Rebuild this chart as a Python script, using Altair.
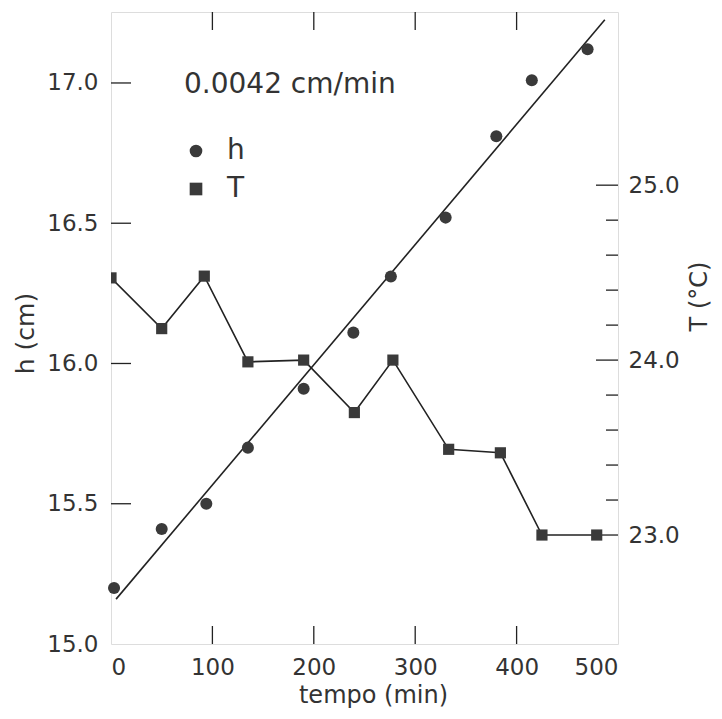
import altair as alt
import pandas as pd

# ---- data ----
h_t = [3, 50, 94, 135, 190, 239, 276, 330, 380, 415, 470]
h_val = [15.20, 15.41, 15.50, 15.70, 15.91, 16.11, 16.31, 16.52, 16.81, 17.01, 17.12]
T_t = [0, 50, 92, 135, 190, 240, 278, 333, 384, 425, 479]
T_val = [24.47, 24.18, 24.48, 23.99, 24.00, 23.70, 24.00, 23.49, 23.47, 23.00, 23.00]
fit_t = [5, 487]
fit_h = [15.16, 17.225]
x_labels = [0, 100, 200, 300, 400, 500]
x_inner_ticks = [100, 200, 300, 400]
h_labels = [15.0, 15.5, 16.0, 16.5, 17.0]
h_inner_ticks = [15.5, 16.0, 16.5, 17.0]
T_labels = [23.0, 24.0, 25.0]
T_minor = [23.2, 23.4, 23.6, 23.8, 24.2, 24.4, 24.6, 24.8]
slope_label = ["0.0042 cm/min"]
series = ["h", "T"]

W, H = 507, 632
FONT = "DejaVu Sans"
INK = "#222222"
MARK = "#3a3a3a"
TXT = "#333333"

dfh = pd.DataFrame({"t": h_t, "h": h_val, "series": "h"})
dfT = pd.DataFrame({"t": T_t, "T": T_val, "series": "T"})
dff = pd.DataFrame({"t": fit_t, "h": fit_h})

xscale = alt.Scale(domain=[0, 500], nice=False, zero=False)
hscale = alt.Scale(domain=[15.0, 17.253], nice=False, zero=False)
Tscale = alt.Scale(domain=[22.377, 25.99], nice=False, zero=False)

xaxis = alt.Axis(values=x_labels, format="d", labelFlush=True, ticks=False, domain=False,
                 grid=False, labelPadding=12, labelFontSize=23, labelColor=TXT,
                 labelFont=FONT, title="tempo (min)", titleFont=FONT, titleFontSize=24,
                 titleFontWeight="normal", titleColor=TXT, titleX=262, titleY=51,
                 titleBaseline="middle", titleAlign="center")
haxis = alt.Axis(values=h_labels, format=".1f", orient="left", ticks=False, domain=False,
                 grid=False, labelPadding=13, labelFontSize=23, labelColor=TXT,
                 labelFont=FONT, title="h (cm)", titleFont=FONT, titleFontSize=25,
                 titleFontWeight="normal", titleColor=TXT, titleAngle=270,
                 titleX=-86, titleY=321, titleBaseline="middle", titleAlign="center")
Taxis = alt.Axis(values=T_labels, format=".1f", orient="right", ticks=False, domain=False,
                 grid=False, labelPadding=10, labelFontSize=23, labelColor=TXT,
                 labelFont=FONT, title="T (°C)", titleFont=FONT, titleFontSize=24,
                 titleFontWeight="normal", titleColor=TXT, titleAngle=270,
                 titleX=81, titleY=284, titleBaseline="middle", titleAlign="center")

X = alt.X("t:Q", scale=xscale, axis=xaxis)
YH = alt.Y("h:Q", scale=hscale, axis=haxis)
YT = alt.Y("T:Q", scale=Tscale, axis=Taxis)

legend = alt.Legend(title=None, orient="none", legendX=71, legendY=125, padding=0,
                    labelFont=FONT, labelFontSize=28, labelColor=TXT, labelOffset=17,
                    symbolSize=160, symbolFillColor=MARK, symbolStrokeColor=MARK,
                    symbolStrokeWidth=0, symbolOpacity=1, rowPadding=10)
SHAPE = alt.Shape("series:N", scale=alt.Scale(domain=series, range=["circle", "square"]),
                  legend=legend)

# ---- left (h) group ----
h_pts = alt.Chart(dfh).mark_point(filled=True, size=145, color=MARK, opacity=1).encode(
    x=X, y=YH, shape=SHAPE)
fit = alt.Chart(dff).mark_line(color=INK, strokeWidth=1.6).encode(x=X, y=YH)
h_ticks = alt.Chart(pd.DataFrame({"h": h_inner_ticks})).mark_rule(
    color=INK, strokeWidth=1.3).encode(y=YH, x=alt.value(0), x2=alt.value(20))
xb_ticks = alt.Chart(pd.DataFrame({"t": x_inner_ticks})).mark_rule(
    color=INK, strokeWidth=1.3).encode(x=X, y=alt.value(H), y2=alt.value(H - 18))
xt_ticks = alt.Chart(pd.DataFrame({"t": x_inner_ticks})).mark_rule(
    color=INK, strokeWidth=1.3).encode(x=X, y=alt.value(0), y2=alt.value(18))
note = alt.Chart(pd.DataFrame({"label": slope_label})).mark_text(
    align="left", baseline="middle", font=FONT, fontSize=28, color=TXT).encode(
    text="label:N", x=alt.value(73), y=alt.value(73))

left = alt.layer(fit, h_ticks, xb_ticks, xt_ticks, h_pts, note)

# ---- right (T) group ----
T_line = alt.Chart(dfT).mark_line(color=INK, strokeWidth=1.6, clip=True).encode(x=X, y=YT)
T_pts = alt.Chart(dfT).mark_point(filled=True, size=125, color=MARK, opacity=1,
                                  shape="square", clip=True).encode(x=X, y=YT, shape=SHAPE)
T_major_ticks = alt.Chart(pd.DataFrame({"T": T_labels})).mark_rule(
    color=INK, strokeWidth=1.3).encode(y=YT, x=alt.value(W), x2=alt.value(W - 22))
T_minor_ticks = alt.Chart(pd.DataFrame({"T": T_minor})).mark_rule(
    color=INK, strokeWidth=1.3).encode(y=YT, x=alt.value(W), x2=alt.value(W - 12))

right = alt.layer(T_line, T_major_ticks, T_minor_ticks, T_pts)

chart = alt.layer(left, right).resolve_scale(y="independent").properties(
    width=W, height=H,
    autosize=alt.AutoSizeParams(type="none"),
    padding={"left": 103, "top": 4, "right": 96, "bottom": 67},
).configure_view(stroke="#111111", strokeWidth=1.8).configure(background="white")

chart.save("out.html", embed_options={"renderer": "svg", "actions": False})
